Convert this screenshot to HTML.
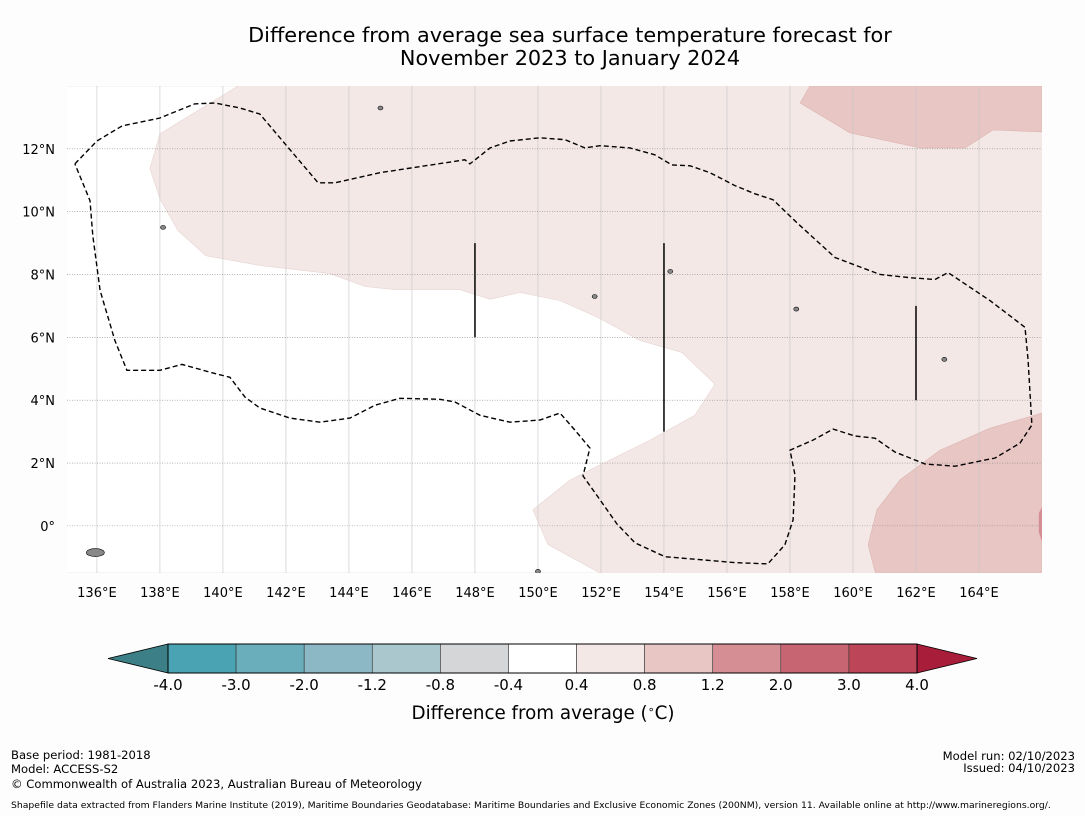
<!DOCTYPE html>
<html><head><meta charset="utf-8">
<style>
body{margin:0;background:#fdfdfd;font-family:"Liberation Sans","DejaVu Sans",sans-serif;}
#wrap{position:relative;width:1085px;height:816px;overflow:hidden;background:#fdfdfd;}
svg text{font-family:"DejaVu Sans","Liberation Sans",sans-serif;}
</style></head>
<body>
<div id="wrap">
<svg id="svg" width="1085" height="816" xmlns="http://www.w3.org/2000/svg">
<text x="570" y="42" font-size="20.8" text-anchor="middle" fill="#000">Difference from average sea surface temperature forecast for</text>
<text x="570" y="65" font-size="20.8" text-anchor="middle" fill="#000">November 2023 to January 2024</text>
<g id="map"></g>
<g id="cbar"></g>
<text x="543" y="719" font-size="18.3" text-anchor="middle">Difference from average (<tspan baseline-shift="super" font-size="11">∘</tspan>C)</text>
<text x="11" y="759" font-size="11.6">Base period: 1981-2018</text>
<text x="11" y="773" font-size="11.6">Model: ACCESS-S2</text>
<text x="11" y="788" font-size="11.6">© Commonwealth of Australia 2023, Australian Bureau of Meteorology</text>
<text x="1075" y="760" font-size="11.6" text-anchor="end">Model run: 02/10/2023</text>
<text x="1075" y="772" font-size="11.6" text-anchor="end">Issued: 04/10/2023</text>
<text x="11" y="808" font-size="9.25">Shapefile data extracted from Flanders Marine Institute (2019), Maritime Boundaries Geodatabase: Maritime Boundaries and Exclusive Economic Zones (200NM), version 11. Available online at http://www.marineregions.org/.</text>
</svg>
</div>
<script>
const lonTicks=[136,138,140,142,144,146,148,150,152,154,156,158,160,162,164];
const latTicks=[0,2,4,6,8,10,12];
const lonRange=[135.05,166];
const latRange=[-1.5,14];
const whiteRegion=[[135,14],[140.48,14],[138.0,12.48],[137.68,11.37],[138.0,10.41],[138.57,9.4],[139.46,8.6],[141.17,8.29],[143.4,8.03],[144.51,7.62],[145.46,7.52],[147.52,7.52],[148.48,7.21],[149.43,7.43],[150.7,7.17],[151.97,6.6],[153.24,5.9],[154.57,5.52],[155.62,4.51],[154.98,3.52],[153.56,2.73],[151.97,1.94],[151.02,1.46],[149.84,0.51],[150.32,-0.6],[151.97,-1.5],[135,-1.5]];
const warmTop=[[158.63,14],[158.32,13.46],[159.9,12.51],[162.13,12.03],[163.56,12.03],[164.44,12.6],[166,12.54],[166,14]];
const warmBottom=[[166,3.59],[164.35,3.11],[162.76,2.41],[161.49,1.46],[160.76,0.51],[160.48,-0.6],[160.71,-1.5],[166,-1.5]];
const hotPatch=[[166,0.6],[165.9,0.4],[165.9,-0.2],[166,-0.5]];
const eezLine=[[135.3,11.52],[136.0,12.25],[136.8,12.73],[138.0,12.98],[139.1,13.43],[139.75,13.46],[140.54,13.3],[141.17,13.11],[141.97,12.16],[143.02,10.92],[143.56,10.92],[144.98,11.24],[147.68,11.65],[147.84,11.52],[148.48,12.03],[149.11,12.25],[150.06,12.35],[150.86,12.29],[151.49,12.03],[151.97,12.1],[152.92,12.03],[153.71,11.81],[154.25,11.49],[154.83,11.46],[155.46,11.24],[156.25,10.83],[156.89,10.57],[157.46,10.38],[158.22,9.65],[159.43,8.54],[160.86,8.0],[161.81,7.9],[162.6,7.84],[163.02,8.06],[164.35,7.17],[165.46,6.32],[165.56,5.27],[165.68,3.21],[165.3,2.63],[164.51,2.16],[163.24,1.9],[162.29,1.97],[161.33,2.35],[160.7,2.79],[160.06,2.86],[159.37,3.08],[158.73,2.73],[158.0,2.41],[158.16,1.62],[158.1,0.19],[157.84,-0.6],[157.3,-1.21],[156.25,-1.17],[154.03,-0.98],[153.08,-0.54],[152.51,0.06],[151.97,0.83],[151.43,1.59],[151.65,2.48],[151.17,3.05],[150.7,3.59],[150.06,3.37],[149.11,3.3],[148.16,3.52],[147.37,3.94],[146.89,4.03],[145.62,4.06],[144.83,3.84],[144.03,3.43],[143.08,3.3],[142.13,3.43],[141.17,3.75],[140.7,4.1],[140.22,4.73],[139.59,4.89],[138.7,5.14],[138.0,4.95],[136.95,4.95],[136.57,5.9],[136.1,7.49],[135.87,9.24],[135.78,10.35],[135.65,10.67],[135.3,11.52]];
const boundarySegments=[[148,9],[148,6],[154,9],[154,3],[162,7],[162,4]];
const islands=[[135.95,-0.85],[145.0,13.3],[138.1,9.5],[151.8,7.3],[158.2,6.9],[162.9,5.3],[154.2,8.1],[150.0,-1.45]];
const cbLabels=["-4.0","-3.0","-2.0","-1.2","-0.8","-0.4","0.4","0.8","1.2","2.0","3.0","4.0"];
const cbColors=["#4aa3b2","#6aaebb","#8bb8c4","#a9c7cc","#d5d6d8","#ffffff","#f4e8e7","#e8c6c3","#d68e95","#c76672","#bc4657"];
const cbUnder="#3d7f86", cbOver="#a81e3a";

const NS="http://www.w3.org/2000/svg";
const X0=67,X1=1042,Y0=86,Y1=573;
const xs=lon=>X0+(lon-lonRange[0])/(lonRange[1]-lonRange[0])*(X1-X0);
const ys=lat=>Y1-(lat-latRange[0])/(latRange[1]-latRange[0])*(Y1-Y0);
function mk(tag,attrs,parent){const e=document.createElementNS(NS,tag);for(const k in attrs)e.setAttribute(k,attrs[k]);parent.appendChild(e);return e;}
const pts=a=>a.map(p=>xs(p[0]).toFixed(1)+","+ys(p[1]).toFixed(1)).join(" ");
const map=document.getElementById('map');
const defs=mk('defs',{},map);const cp=mk('clipPath',{id:'clip'},defs);mk('rect',{x:X0,y:Y0,width:X1-X0,height:Y1-Y0},cp);
const g=mk('g',{'clip-path':'url(#clip)'},map);
let e=mk('rect',{x:X0,y:Y0,width:X1-X0,height:Y1-Y0,fill:'#f4e8e7'},g);


e=mk('polygon',{points:pts(whiteRegion),fill:'#ffffff',stroke:'#e6d4d2','stroke-width':0.6},g);


[warmTop,warmBottom].forEach(r=>{e=mk('polygon',{points:pts(r),fill:'#e8c6c3',stroke:'#dcb5b2','stroke-width':0.6},g);

});
e=mk('polygon',{points:pts(hotPatch),fill:'#d68e95'},g);


lonTicks.forEach(l=>{e=mk('line',{x1:xs(l),x2:xs(l),y1:Y0,y2:Y1,stroke:'#c4c4c4','stroke-width':0.6},g);


e=mk('text',{x:xs(l),y:Y1+24,'font-size':13,'text-anchor':'middle'},map);e.textContent=l+'°E';

});
latTicks.forEach(l=>{e=mk('line',{x1:X0,x2:X1,y1:ys(l),y2:ys(l),stroke:'#888','stroke-width':0.6,'stroke-dasharray':'1,1.5'},g);


e=mk('text',{x:X0-12,y:ys(l)+5,'font-size':13,'text-anchor':'end'},map);e.textContent=l===0?'0°':l+'°N';

});
e=mk('polyline',{points:pts(eezLine),fill:'none',stroke:'#000','stroke-width':1.4,'stroke-dasharray':'5,3'},g);


for(let i=0;i<boundarySegments.length;i+=2){const a=boundarySegments[i],b=boundarySegments[i+1];
e=mk('line',{x1:xs(a[0]),y1:ys(a[1]),x2:xs(b[0]),y2:ys(b[1]),stroke:'#000','stroke-width':1.5},g);

}
islands.forEach((p,i)=>{e=mk('ellipse',{cx:xs(p[0]),cy:ys(p[1]),rx:i===0?9:2.5,ry:i===0?4:2,fill:'#888',stroke:'#000','stroke-width':0.6},g);

});
// colorbar
const cb=document.getElementById('cbar');
const CX0=168,CX1=917,CY0=644,CY1=673,n=cbColors.length,w=(CX1-CX0)/n;
e=mk('polygon',{points:`${CX0},${CY0} ${CX0},${CY1} 108,${(CY0+CY1)/2}`,fill:cbUnder,stroke:'#000','stroke-width':0.8},cb);


e=mk('polygon',{points:`${CX1},${CY0} ${CX1},${CY1} 977,${(CY0+CY1)/2}`,fill:cbOver,stroke:'#000','stroke-width':0.8},cb);


cbColors.forEach((c,i)=>{e=mk('rect',{x:CX0+i*w,y:CY0,width:w,height:CY1-CY0,fill:c,stroke:'#333','stroke-width':0.6},cb);

});
mk('rect',{x:CX0,y:CY0,width:CX1-CX0,height:CY1-CY0,fill:'none',stroke:'#000','stroke-width':1},cb);
cbLabels.forEach((t,i)=>{e=mk('text',{x:CX0+i*w,y:690,'font-size':15,'text-anchor':'middle'},cb);e.textContent=t;

});
</script>
</body></html>
